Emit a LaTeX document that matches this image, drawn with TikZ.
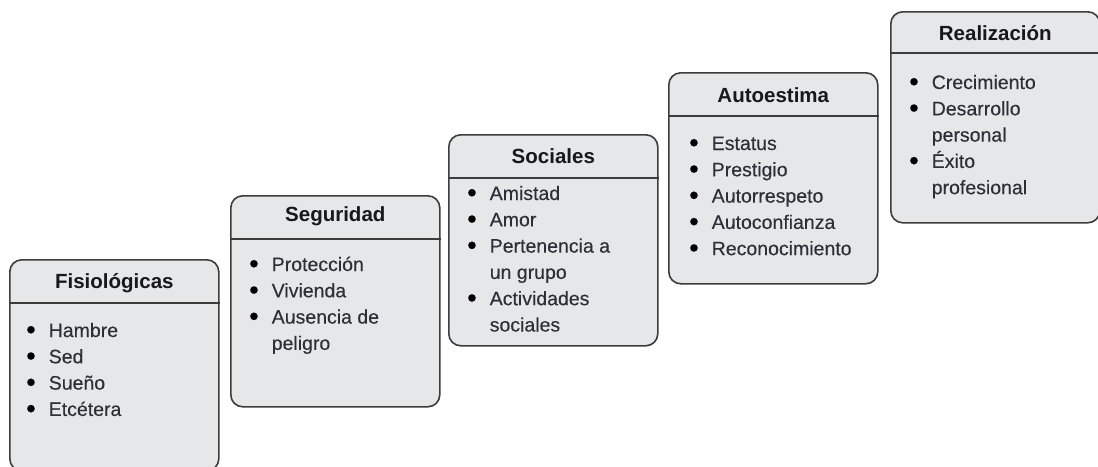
\documentclass[tikz,border=0pt]{standalone}
\usepackage{fontspec}
\setmainfont{Liberation Sans}
\definecolor{boxfill}{HTML}{E6E7E9}
\definecolor{boxline}{HTML}{3C3C3C}
\definecolor{itemtext}{HTML}{2E2E38}
\definecolor{titletext}{HTML}{18181C}
\newcommand{\bul}{\raisebox{-1.8pt}{\scalebox{1.4}{\textcolor{black}{\textbullet}}}}
\begin{document}
\begin{tikzpicture}[x=1pt,y=-1pt,
  stage/.style={draw=boxline, line width=1.6pt, fill=boxfill,
    rounded corners=12pt, minimum width=209pt, minimum height=211pt,
    anchor=north west, inner sep=0pt},
  headrule/.style={draw=boxline, line width=1.3pt},
  stagetitle/.style={font=\fontsize{20.5pt}{24pt}\selectfont\bfseries,
    text=titletext, inner sep=0pt},
  itemlist/.style={font=\fontsize{19.5pt}{26.3pt}\selectfont\addfontfeature{FakeBold=0.25},
    text=itemtext, inner sep=0pt, anchor=base west}]
\useasboundingbox (0,0) rectangle (1098,466);

% the five stages, climbing from left to right
\node[stage] (b1) at (9,259) {};
\node[stage] (b2) at (230,195) {};
\node[stage] (b3) at (448,134) {};
\node[stage] (b4) at (668,72) {};
\node[stage] (b5) at (890,11) {};

% header rules
\foreach \b in {b1,b2,b3,b4} {
  \draw[headrule] ([yshift=-44pt]\b.north west) -- ([yshift=-44pt]\b.north east);
}
\draw[headrule] ([yshift=-42pt]b5.north west) -- ([yshift=-42pt]b5.north east);

% titles
\node[stagetitle] (t1) at ([yshift=-24pt]b1.north) {Fisiológicas};
\node[stagetitle] (t2) at ([yshift=-21pt]b2.north) {Seguridad};
\node[stagetitle] (t3) at ([yshift=-22pt]b3.north) {Sociales};
\node[stagetitle] (t4) at ([yshift=-23pt]b4.north) {Autoestima};
\node[stagetitle] (t5) at ([yshift=-22pt]b5.north) {Realización};

% bulleted contents
\node[itemlist] (l1) at ([xshift=17pt,yshift=-78pt]b1.north west) {%
  \begin{tabular}[t]{@{}c@{\hspace{13pt}}l@{}}
  \bul & Hambre\\
  \bul & Sed\\
  \bul & Sueño\\
  \bul & Etcétera
  \end{tabular}};
\node[itemlist] (l2) at ([xshift=19pt,yshift=-76pt]b2.north west) {%
  \begin{tabular}[t]{@{}c@{\hspace{13pt}}l@{}}
  \bul & Protección\\
  \bul & Vivienda\\
  \bul & Ausencia de\\
       & peligro
  \end{tabular}};
\node[itemlist] (l3) at ([xshift=19pt,yshift=-66pt]b3.north west) {%
  \begin{tabular}[t]{@{}c@{\hspace{13pt}}l@{}}
  \bul & Amistad\\
  \bul & Amor\\
  \bul & Pertenencia a\\
       & un grupo\\
  \bul & Actividades\\
       & sociales
  \end{tabular}};
\node[itemlist] (l4) at ([xshift=21pt,yshift=-78pt]b4.north west) {%
  \begin{tabular}[t]{@{}c@{\hspace{13pt}}l@{}}
  \bul & Estatus\\
  \bul & Prestigio\\
  \bul & Autorrespeto\\
  \bul & Autoconfianza\\
  \bul & Reconocimiento
  \end{tabular}};
\node[itemlist] (l5) at ([xshift=19pt,yshift=-78pt]b5.north west) {%
  \begin{tabular}[t]{@{}c@{\hspace{13pt}}l@{}}
  \bul & Crecimiento\\
  \bul & Desarrollo\\
       & personal\\
  \bul & Éxito\\
       & profesional
  \end{tabular}};
\end{tikzpicture}
\end{document}
